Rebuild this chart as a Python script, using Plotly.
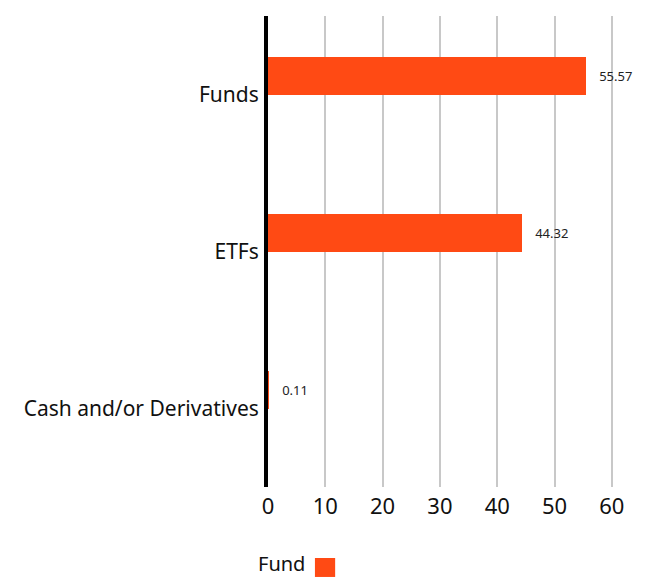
import plotly.graph_objects as go

categories = ["Funds", "ETFs", "Cash and/or Derivatives"]
fund_values = [55.57, 44.32, 0.11]
value_labels = ["55.57", "44.32", "0.11"]
tick_vals = [0, 10, 20, 30, 40, 50, 60]
series_name = "Fund"

FONT = "Noto Sans"
ORANGE = "#ff4a14"
NBSP = "\u00a0"

fig = go.Figure()
fig.add_trace(go.Bar(
    y=categories, x=fund_values, orientation="h",
    name=series_name, marker=dict(color=ORANGE, line=dict(width=0)),
    width=0.236, offset=-0.236,
    text=[NBSP * 3 + t for t in value_labels], textposition="outside",
    cliponaxis=False,
    textfont=dict(family=FONT, size=13, color="#222"),
    showlegend=False,
))

# manual legend: label then square swatch
fig.add_annotation(
    text=series_name, xref="paper", yref="paper", x=-0.033, y=-0.163,
    xanchor="left", yanchor="middle", showarrow=False,
    font=dict(size=20, family=FONT, color="#111"),
)
fig.add_shape(
    type="rect", xref="paper", yref="paper",
    x0=0.130, x1=0.186, y0=-0.191, y1=-0.1507,
    fillcolor=ORANGE, line=dict(width=0),
)

fig.update_layout(
    width=643, height=569,
    margin=dict(l=260, r=22, t=8, b=90, autoexpand=False),
    paper_bgcolor="white", plot_bgcolor="white",
    font=dict(family=FONT, color="#111"),
    bargap=0,
    xaxis=dict(range=[0, 63], tickvals=tick_vals, showgrid=True,
               gridcolor="#c8c8c8", gridwidth=2, zeroline=False,
               tickfont=dict(size=22, family=FONT, color="#111"),
               ticks="", showline=False, automargin=False,
               ticklabelstandoff=4),
    yaxis=dict(autorange="reversed", showline=True, linecolor="black",
               linewidth=4, ticks="", showgrid=False, automargin=False,
               tickfont=dict(size=21, family=FONT, color="#111"),
               ticklabelstandoff=1),
    showlegend=False,
)

fig.write_html("out.html")
